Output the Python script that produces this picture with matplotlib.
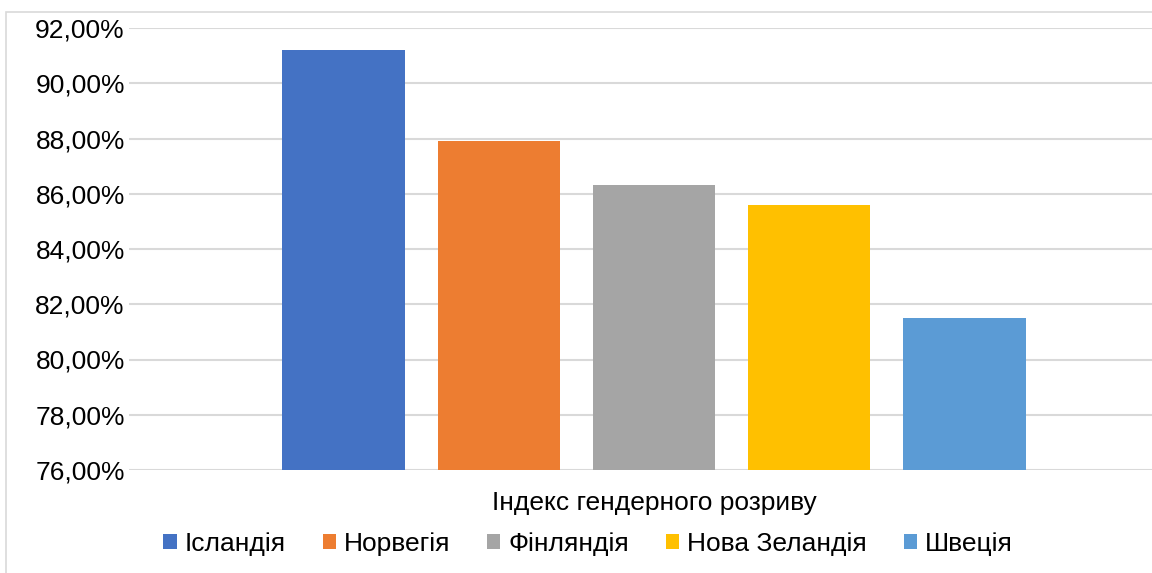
import matplotlib.pyplot as plt
from matplotlib.patches import Rectangle
from matplotlib.ticker import FuncFormatter
import numpy as np

# data
category = 'Індекс гендерного розриву'
countries = ['Ісландія', 'Норвегія', 'Фінляндія', 'Нова Зеландія', 'Швеція']
values = [91.2, 87.9, 86.3, 85.6, 81.5]
colors = ['#4472C4', '#ED7D31', '#A5A5A5', '#FFC000', '#5B9BD5']
y_ticks = [76, 78, 80, 82, 84, 86, 88, 90, 92]

plt.rcParams['font.family'] = ['Liberation Sans', 'DejaVu Sans']

fig = plt.figure(figsize=(11.52, 5.73), dpi=100)
# plot area runs past the right edge of the picture (cropped screenshot)
ax = fig.add_axes([129 / 1152, 103 / 573, 1050 / 1152, 442 / 573])

# chart area frame
fig.patches.append(Rectangle((6 / 1152, -0.2), 1.2, 1.2 - 12 / 573,
                             transform=fig.transFigure, fill=False,
                             edgecolor='#d9d9d9', linewidth=1.2, zorder=0))

x = np.arange(len(countries))
bars = ax.bar(x, [v - y_ticks[0] for v in values], bottom=y_ticks[0],
              width=0.79, color=colors, zorder=3)

ax.set_ylim(y_ticks[0], y_ticks[-1])
ax.set_xlim(-1.384, 5.384)
ax.set_yticks(y_ticks)
ax.yaxis.set_major_formatter(FuncFormatter(lambda v, p: f'{v:.2f}%'.replace('.', ',')))
ax.set_xticks([2], [category])
ax.tick_params(axis='both', length=0, labelsize=19, colors='#000000')
ax.tick_params(axis='y', pad=3)
ax.tick_params(axis='x', pad=15)
ax.grid(axis='y', color='#d9d9d9', linewidth=1.5, zorder=0)
for s in ax.spines.values():
    s.set_visible(False)

fig.legend(bars, countries, loc='center', bbox_to_anchor=(588 / 1152, 1 - 544 / 573),
           ncol=5, frameon=False, fontsize=19, handlelength=0.5, handleheight=0.5,
           handletextpad=0.3, columnspacing=1.4, borderpad=0)

fig.savefig('out.png', dpi=100)
